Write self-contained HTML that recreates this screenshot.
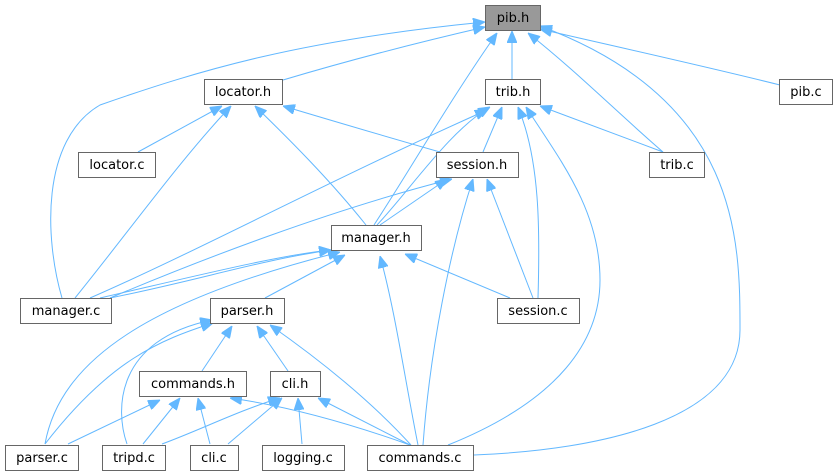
<!DOCTYPE html>
<html><head><meta charset="utf-8"><style>
html,body{margin:0;padding:0;background:#fff;width:838px;height:476px;overflow:hidden}
text{font-family:"DejaVu Sans","Liberation Sans",sans-serif;font-size:13px;fill:#000}
</style></head><body>
<svg width="838" height="476" viewBox="0 0 838 476" xmlns="http://www.w3.org/2000/svg">
<defs><marker id="a" viewBox="0 0 12 10" refX="12" refY="5" markerWidth="12" markerHeight="10" markerUnits="userSpaceOnUse" orient="auto"><path d="M0,0 L12,5 L0,10z" fill="#63b8ff" stroke="#63b8ff"/></marker></defs>
<g fill="none" stroke="#63b8ff" stroke-width="1" marker-end="url(#a)">
<path d="M283,80 C350,60 420,42 485,27"/>
<path d="M512,79 L512,31"/>
<path d="M780,85 C700,65 600,43 540,29"/>
<path d="M663,152 C620,115 575,70 528,33"/>
<path d="M62,298 C45,240 40,140 100,105 C200,70 300,40 485,22"/>
<path d="M374,225 C410,170 450,100 497,33"/>
<path d="M474,455 C600,450 740,420 740,330 C740,240 740,100 540,26"/>
<path d="M138,152 L222,106"/>
<path d="M75,298 C130,230 180,160 231,106"/>
<path d="M366,225 C330,180 290,140 255,106"/>
<path d="M440,152 C380,135 330,120 283,106"/>
<path d="M483,152 L502,107"/>
<path d="M663,152 L540,106"/>
<path d="M90,298 C200,250 330,180 487,110"/>
<path d="M377,225 C410,190 450,130 490,107"/>
<path d="M538,298 C540,230 540,160 518,107"/>
<path d="M448,445 C560,400 600,340 600,280 C600,210 560,160 526,107"/>
<path d="M380,225 L447,179"/>
<path d="M110,298 C200,260 330,210 452,179"/>
<path d="M533,298 L487,179"/>
<path d="M423,445 C430,350 450,250 473,179"/>
<path d="M110,298 C200,280 260,260 331,250"/>
<path d="M100,298 C200,275 280,255 331,250"/>
<path d="M265,298 L345,255"/>
<path d="M45,444 C60,360 150,300 340,252"/>
<path d="M510,298 L405,254"/>
<path d="M418,445 C405,380 395,310 380,256"/>
<path d="M202,371 L232,326"/>
<path d="M288,371 L257,326"/>
<path d="M45,444 C110,360 160,340 213,323"/>
<path d="M127,444 C115,410 115,340 212,320"/>
<path d="M411,445 C370,400 320,360 270,325"/>
<path d="M68,444 L160,400"/>
<path d="M143,444 L180,398"/>
<path d="M210,444 L198,398"/>
<path d="M410,445 C340,420 280,405 230,398"/>
<path d="M162,444 C200,430 240,410 280,398"/>
<path d="M228,444 L282,398"/>
<path d="M302,444 L298,398"/>
<path d="M410,445 L318,398"/>
</g>
<g stroke="#666" stroke-width="1" fill="#fff">
<rect x="485.5" y="5.5" width="55" height="25" fill="#999"/>
<rect x="204.5" y="79.5" width="78" height="25"/>
<rect x="485.5" y="79.5" width="55" height="25"/>
<rect x="779.5" y="79.5" width="53" height="25"/>
<rect x="78.5" y="152.5" width="77" height="25"/>
<rect x="436.5" y="152.5" width="82" height="25"/>
<rect x="649.5" y="152.5" width="55" height="25"/>
<rect x="331.5" y="225.5" width="90" height="25"/>
<rect x="20.5" y="298.5" width="91" height="25"/>
<rect x="210.5" y="298.5" width="74" height="25"/>
<rect x="497.5" y="298.5" width="82" height="25"/>
<rect x="139.5" y="371.5" width="107" height="25"/>
<rect x="270.5" y="371.5" width="50" height="25"/>
<rect x="5.5" y="445.5" width="73" height="25"/>
<rect x="102.5" y="445.5" width="63" height="25"/>
<rect x="190.5" y="445.5" width="48" height="25"/>
<rect x="262.5" y="445.5" width="82" height="25"/>
<rect x="367.5" y="445.5" width="106" height="25"/>
</g>
<g text-anchor="middle">
<text x="513" y="22">pib.h</text>
<text x="243" y="96">locator.h</text>
<text x="513" y="96">trib.h</text>
<text x="806" y="96">pib.c</text>
<text x="117" y="169">locator.c</text>
<text x="477" y="169">session.h</text>
<text x="677" y="169">trib.c</text>
<text x="376" y="242">manager.h</text>
<text x="66" y="315">manager.c</text>
<text x="247" y="315">parser.h</text>
<text x="538" y="315">session.c</text>
<text x="193" y="388">commands.h</text>
<text x="295" y="388">cli.h</text>
<text x="42" y="462">parser.c</text>
<text x="134" y="462">tripd.c</text>
<text x="214" y="462">cli.c</text>
<text x="303" y="462">logging.c</text>
<text x="420" y="462">commands.c</text>
</g>
</svg>
</body></html>
